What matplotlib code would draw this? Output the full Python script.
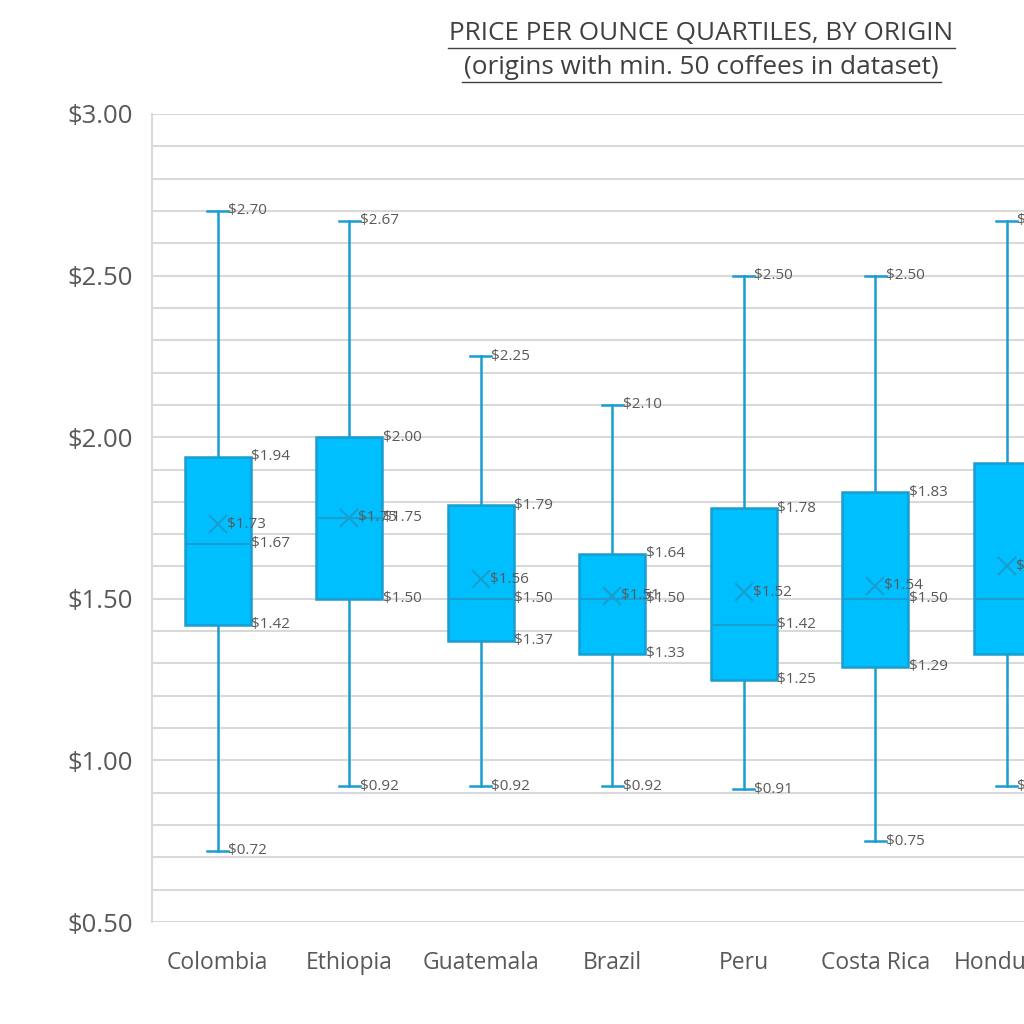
import matplotlib.pyplot as plt
from matplotlib.ticker import MultipleLocator, FuncFormatter

origins = ['Colombia', 'Ethiopia', 'Guatemala', 'Brazil', 'Peru', 'Costa Rica', 'Honduras']
lows = [0.72, 0.92, 0.92, 0.92, 0.91, 0.75, 0.92]
q1s = [1.42, 1.50, 1.37, 1.33, 1.25, 1.29, 1.33]
medians = [1.67, 1.75, 1.50, 1.50, 1.42, 1.50, 1.50]
q3s = [1.94, 2.00, 1.79, 1.64, 1.78, 1.83, 1.92]
highs = [2.70, 2.67, 2.25, 2.10, 2.50, 2.50, 2.67]
means = [1.73, 1.75, 1.56, 1.51, 1.52, 1.54, 1.60]

fill = '#00BFFF'
edge = '#1A9DCF'
text_col = '#595959'
grid_col = '#D9D9D9'

plt.rcParams['font.family'] = ['Open Sans', 'DejaVu Sans']

fig = plt.figure(figsize=(10.24, 10.24), dpi=100)
unit_px = 131.5
span = 8
ax = fig.add_axes([152 / 1024, 102 / 1024, unit_px * span / 1024, 808 / 1024])

stats = []
for i in range(len(origins)):
    stats.append(dict(label=origins[i], whislo=lows[i], q1=q1s[i], med=medians[i],
                      q3=q3s[i], whishi=highs[i], mean=means[i], fliers=[]))

pos = list(range(1, len(origins) + 1))
ax.bxp(stats, positions=pos, widths=0.5, capwidths=0.16, showmeans=True,
       patch_artist=True, showfliers=False,
       boxprops=dict(facecolor=fill, edgecolor=edge, linewidth=1.8),
       medianprops=dict(color=edge, linewidth=1.5),
       whiskerprops=dict(color=edge, linewidth=1.8),
       capprops=dict(color=edge, linewidth=1.8),
       meanprops=dict(marker='x', markeredgecolor=edge, markersize=13,
                      markeredgewidth=1.5),
       zorder=3)

# data labels: whisker ends, box quartiles and mean
lab = dict(fontsize=11, color=text_col, va='center', ha='left', zorder=4)
for i, p in enumerate(pos):
    ax.text(p + 0.08, lows[i], '$%.2f' % lows[i], **lab)
    ax.text(p + 0.08, highs[i], '$%.2f' % highs[i], **lab)
    for v in (q1s[i], medians[i], q3s[i]):
        ax.text(p + 0.255, v, '$%.2f' % v, **lab)
    ax.text(p + 0.07, means[i], '$%.2f' % means[i], **lab)

ax.set_xlim(0.5, 0.5 + span)
ax.set_ylim(0.5, 3.0)
ax.yaxis.set_major_locator(MultipleLocator(0.5))
ax.yaxis.set_minor_locator(MultipleLocator(0.1))
ax.yaxis.set_major_formatter(FuncFormatter(lambda v, _: '$%.2f' % v))
ax.grid(axis='y', which='both', color=grid_col, linewidth=1.5, zorder=0)
ax.set_axisbelow(True)
ax.set_xticks(pos)
ax.set_xticklabels(origins)
ax.tick_params(axis='y', which='both', length=0, pad=14, labelsize=18.5, labelcolor=text_col)
ax.tick_params(axis='x', length=0, pad=21, labelsize=16.5, labelcolor=text_col)
for s in ['top', 'right', 'bottom']:
    ax.spines[s].set_visible(False)
ax.spines['left'].set_color(grid_col)
ax.spines['left'].set_linewidth(1.5)

title_col = '#404040'
fig.text(701 / 1024, 1 - 34 / 1024, 'PRICE PER OUNCE QUARTILES, BY ORIGIN',
         ha='center', va='center', fontsize=18.8, color=title_col)
fig.text(701 / 1024, 1 - 68 / 1024, '(origins with min. 50 coffees in dataset)',
         ha='center', va='center', fontsize=18.8, color=title_col)
fig.add_artist(plt.Line2D([448 / 1024, 955 / 1024], [1 - 48 / 1024] * 2, color=title_col, lw=1))
fig.add_artist(plt.Line2D([462 / 1024, 941 / 1024], [1 - 82 / 1024] * 2, color=title_col, lw=1))

fig.savefig('out.png', dpi=100)
